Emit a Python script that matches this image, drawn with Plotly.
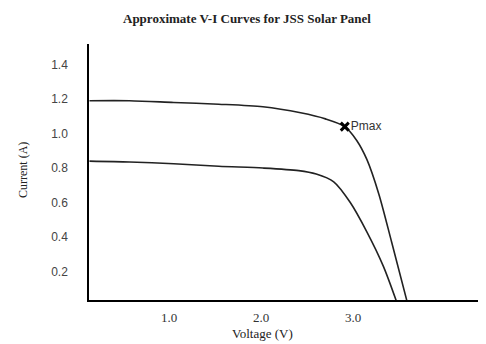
import plotly.graph_objects as go

# Data
v_upper = [0.135, 0.57, 1.05, 1.54, 2.02, 2.43, 2.70, 2.91, 3.04, 3.15, 3.28, 3.42, 3.60]
i_upper = [1.19, 1.19, 1.18, 1.17, 1.155, 1.12, 1.085, 1.04, 0.96, 0.85, 0.65, 0.37, 0.0]

v_lower = [0.135, 0.57, 1.05, 1.54, 2.02, 2.41, 2.60, 2.79, 2.97, 3.15, 3.33, 3.49]
i_lower = [0.84, 0.835, 0.825, 0.81, 0.80, 0.785, 0.765, 0.72, 0.60, 0.43, 0.23, 0.0]

pmax_v = [2.91]
pmax_i = [1.04]
pmax_label = ["Pmax"]

x_ticks = [1.0, 2.0, 3.0]
x_tick_labels = ["1.0", "2.0", "3.0"]
y_ticks = [0.2, 0.4, 0.6, 0.8, 1.0, 1.2, 1.4]
y_tick_labels = ["0.2", "0.4", "0.6", "0.8", "1.0", "1.2", "1.4"]

# page is rendered with an 8px body margin; figure coordinates are offset accordingly
W, H = 478, 336

fig = go.Figure()
line_style = dict(color="#222222", width=1.6, shape="spline", smoothing=0.8)
fig.add_trace(go.Scatter(x=v_upper, y=i_upper, mode="lines", line=line_style, hoverinfo="skip"))
fig.add_trace(go.Scatter(x=v_lower, y=i_lower, mode="lines", line=line_style, hoverinfo="skip"))
fig.add_trace(go.Scatter(
    x=pmax_v, y=pmax_i, mode="markers+text",
    marker=dict(symbol="x-thin", size=8, color="black", line=dict(width=3, color="black")),
    text=pmax_label, textposition="middle right",
    textfont=dict(family="Liberation Sans", size=12, color="#333333"),
    cliponaxis=False,
))

fig.update_layout(
    width=W, height=H,
    margin=dict(l=81, r=6, t=36, b=44, autoexpand=False),
    paper_bgcolor="white", plot_bgcolor="white",
    showlegend=False,
    title=dict(text="<b>Approximate V-I Curves for JSS Solar Panel</b>",
               x=239/W, xanchor="center", y=1-10/H, yanchor="middle",
               font=dict(family="Liberation Serif", size=13, color="#222222")),
    annotations=[
        dict(text="Voltage (V)", xref="paper", yref="paper",
             x=(262-89)/391, y=-(333-300)/256, xanchor="center", yanchor="middle",
             showarrow=False, font=dict(family="Liberation Serif", size=13, color="#222222")),
        dict(text="Current (A)", xref="paper", yref="paper", textangle=-90,
             x=-(89-23)/391, y=(300-170)/256, xanchor="center", yanchor="middle",
             showarrow=False, font=dict(family="Liberation Serif", size=12, color="#222222")),
    ],
)
fig.update_xaxes(
    range=[0.13, 4.38], tickvals=x_ticks, ticktext=x_tick_labels, automargin=False,
    showgrid=False, zeroline=False, showline=True, linecolor="black", linewidth=1.5,
    ticks="outside", ticklen=5, tickcolor="rgba(0,0,0,0)",
    tickfont=dict(family="Liberation Serif", size=13, color="#333333"),
)
fig.update_yaxes(
    range=[0.035, 1.519], tickvals=y_ticks, ticktext=y_tick_labels, automargin=False,
    showgrid=False, zeroline=False, showline=True, linecolor="black", linewidth=1.5,
    ticks="outside", ticklen=17, tickcolor="rgba(0,0,0,0)",
    tickfont=dict(family="Liberation Sans", size=12, color="#444444"),
)

fig.write_html("out.html")
